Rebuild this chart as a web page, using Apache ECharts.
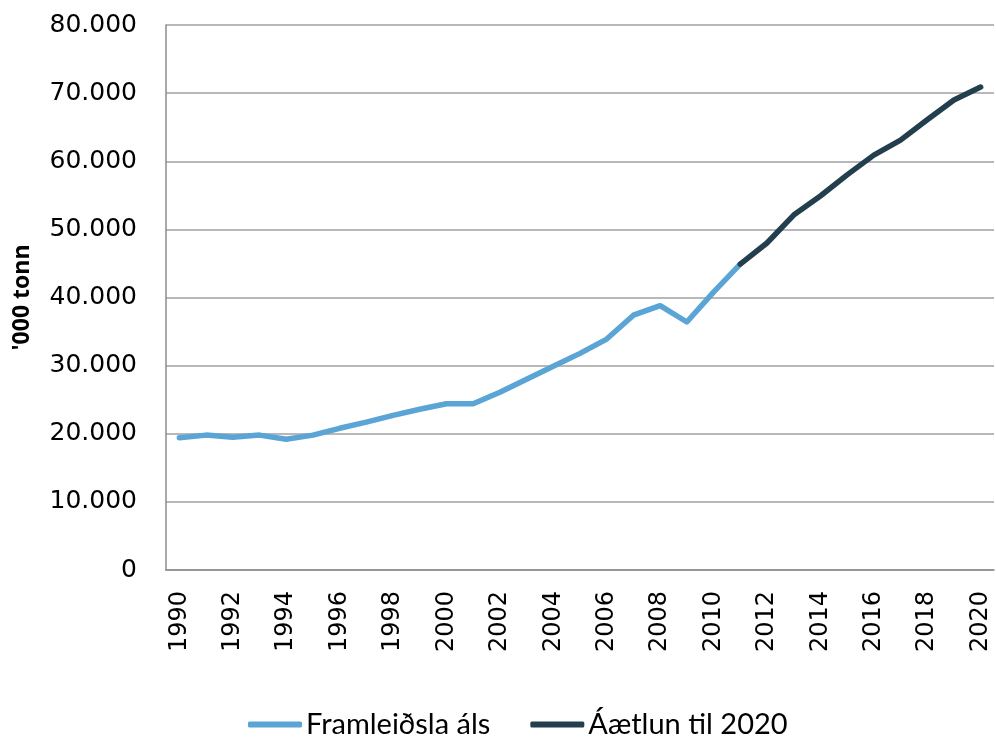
<!DOCTYPE html>
<html lang="is">
<head>
    <meta charset="UTF-8">
    <title>Framleiðsla áls</title>
    <style>
        html, body { margin: 0; padding: 0; background: #fff; }
    </style>
</head>
<body>
    <div id="chart" style="width: 996px;height:737px;"></div>
</body>
</html>
<script src="https://cdn.jsdelivr.net/npm/echarts@6/dist/echarts.min.js"></script>
<script type="text/javascript">
    const years = [];
    for (let y = 1990; y <= 2020; y++) years.push(String(y));

    // Framleiðsla áls 1990-2011
    const production = [19400, 19800, 19500, 19800, 19200, 19800, 20800, 21700, 22700, 23600,
        24400, 24400, 26100, 28000, 29900, 31800, 33900, 37400, 38800, 36400,
        40800, 44900];
    // Áætlun til 2020 (2011-2020)
    const forecast = [44900, 48000, 52100, 54900, 58000, 60900, 63100, 66100, 69000, 70900];

    const productionData = years.map((y, i) => i < production.length ? production[i] : null);
    const forecastData = years.map((y, i) => {
        const j = i - (years.length - forecast.length);
        return j >= 0 ? forecast[j] : null;
    });

    const chart = echarts.init(document.getElementById('chart'));

    function fmt(v) {
        return String(v).replace(/\B(?=(\d{3})+(?!\d))/g, '.');
    }

    chart.setOption({
        animation: false,
        grid: { left: 166, right: 2, top: 25, bottom: 167 },
        legend: {
            top: 705,
            left: 243,
            itemWidth: 54,
            itemHeight: 6,
            itemGap: 40,
            icon: 'roundRect',
            textStyle: { fontFamily: 'Lato', fontSize: 29, color: '#000', padding: [0, 0, 0, -1] },
            data: ['Framleiðsla áls', 'Áætlun til 2020']
        },
        xAxis: {
            type: 'category',
            data: years,
            boundaryGap: true,
            axisLine: { lineStyle: { color: '#8c8c8c', width: 1.5 } },
            axisTick: { show: false },
            axisLabel: {
                interval: 1,
                rotate: 90,
                margin: 21,
                fontFamily: 'DejaVu Sans',
                fontSize: 24,
                color: '#000'
            }
        },
        yAxis: {
            type: 'value',
            min: 0,
            max: 80000,
            interval: 10000,
            name: "'000 tonn",
            nameLocation: 'middle',
            nameGap: 132,
            nameRotate: 90,
            nameTextStyle: { fontFamily: 'Open Sans', fontWeight: 'bold', fontSize: 23, color: '#000' },
            axisLine: { show: true, lineStyle: { color: '#8c8c8c', width: 1.5 } },
            axisTick: { show: false },
            splitLine: { lineStyle: { color: '#a0a0a0', width: 1.5 } },
            axisLabel: {
                margin: 29,
                fontFamily: 'DejaVu Sans',
                fontSize: 25,
                color: '#000',
                formatter: fmt
            }
        },
        series: [
            {
                name: 'Framleiðsla áls',
                type: 'line',
                data: productionData,
                showSymbol: false,
                symbol: 'none',
                lineStyle: { color: '#5aa5d5', width: 5.5, cap: 'round', join: 'round' },
                itemStyle: { color: '#5aa5d5' }
            },
            {
                name: 'Áætlun til 2020',
                type: 'line',
                data: forecastData,
                showSymbol: false,
                symbol: 'none',
                lineStyle: { color: '#233f4e', width: 5.5, cap: 'round', join: 'round' },
                itemStyle: { color: '#233f4e' }
            }
        ]
    });
</script>
